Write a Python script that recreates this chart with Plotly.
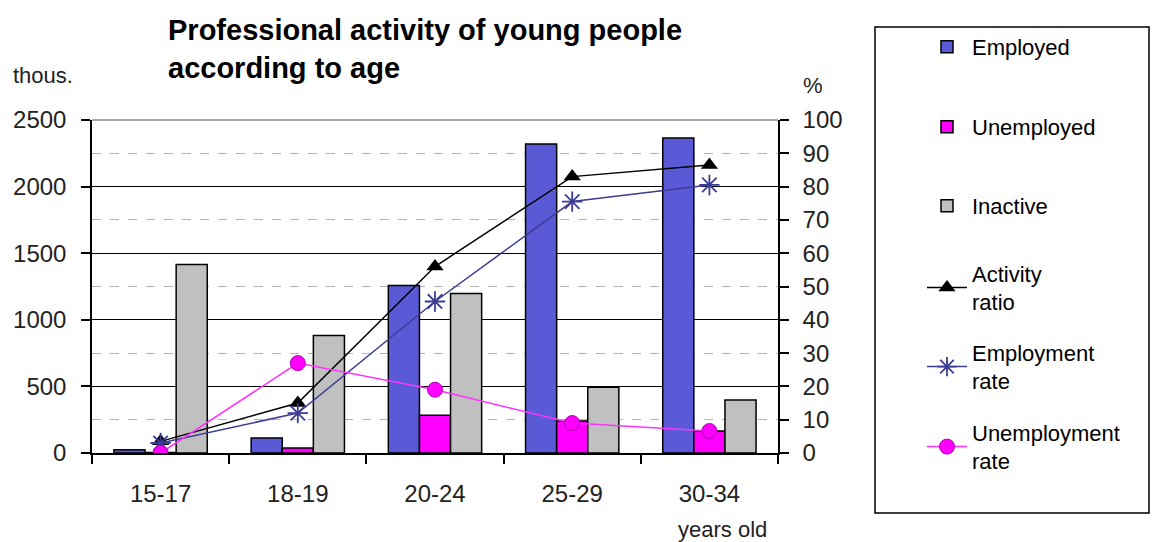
import plotly.graph_objects as go

# ---------------- data ----------------
age_groups = ["15-17", "18-19", "20-24", "25-29", "30-34"]
employed = [25, 112, 1257, 2320, 2365]          # thous.
unemployed = [3, 37, 284, 240, 165]             # thous.
inactive = [1415, 883, 1198, 494, 397]          # thous.
activity_ratio = [3.5, 15, 56, 83, 86.5]        # %
employment_rate = [3, 12, 45.5, 75.5, 80.5]     # %
unemployment_rate = [0, 27, 19, 9, 6.6]         # %

left_ticks = [0, 500, 1000, 1500, 2000, 2500]
right_ticks = list(range(0, 101, 10))

FONT = "Arial, Liberation Sans, sans-serif"

# plot area in px
W, H = 1152, 542
L, R, T, B = 92, 778, 120, 453
pw, ph = R - L, B - T


def px_x(x):
    return (x - L) / pw


def px_y(y):
    return (B - y) / ph


fig = go.Figure()

bar_line = dict(color="black", width=1.5)
fig.add_trace(go.Bar(x=age_groups, y=employed, name="Employed",
                     marker=dict(color="#5a5ad6", line=bar_line), legend="legend"))
fig.add_trace(go.Bar(x=age_groups, y=unemployed, name="Unemployed",
                     marker=dict(color="#ff00ff", line=bar_line), legend="legend2"))
fig.add_trace(go.Bar(x=age_groups, y=inactive, name="Inactive",
                     marker=dict(color="#c0c0c0", line=bar_line), legend="legend3"))

fig.add_trace(go.Scatter(x=age_groups, y=activity_ratio, name="Activity<br>ratio",
                         yaxis="y2", mode="lines+markers",
                         line=dict(color="black", width=1.5),
                         marker=dict(symbol="triangle-up", size=15, color="black"),
                         legend="legend4"))
fig.add_trace(go.Scatter(x=age_groups, y=employment_rate, name="Employment<br>rate",
                         yaxis="y2", mode="lines+markers",
                         line=dict(color="#3c3c96", width=1.5),
                         marker=dict(symbol="asterisk-open", size=17,
                                     line=dict(color="#1a1ae6", width=1.8)),
                         legend="legend5"))
fig.add_trace(go.Scatter(x=age_groups, y=unemployment_rate, name="Unemployment<br>rate",
                         yaxis="y2", mode="lines+markers",
                         line=dict(color="#ff33ff", width=1.5),
                         marker=dict(symbol="circle", size=15, color="#ff00ff",
                                     line=dict(color="#b000b0", width=1)),
                         legend="legend6"))

# legends: one per item, stacked inside a single framed box
legend_centers = [47, 127, 206, 288, 367, 447]
legend_common = dict(x=px_x(922), xanchor="left", yanchor="middle",
                     font=dict(family=FONT, size=22, color="black"),
                     bgcolor="rgba(0,0,0,0)", borderwidth=0, itemwidth=40,
                     valign="middle")
leg_layout = {}
for i, cy in enumerate(legend_centers):
    key = "legend" if i == 0 else f"legend{i+1}"
    leg_layout[key] = dict(legend_common, y=px_y(cy))

fig.update_layout(
    width=W, height=H,
    margin=dict(l=L, r=W - R, t=T, b=H - B, pad=0),
    paper_bgcolor="white", plot_bgcolor="white",
    font=dict(family=FONT, size=22, color="black"),
    barmode="group", bargap=0.32, bargroupgap=0,
    showlegend=True,
    xaxis=dict(type="category", showline=True, linecolor="black", linewidth=1.5,
               ticks="outside", tickson="boundaries", ticklen=9, tickcolor="black",
               tickwidth=1.5, showgrid=False, ticklabelstandoff=18,
               tickfont=dict(family=FONT, size=24, color="#222")),
    yaxis=dict(range=[0, 2500], tickvals=left_ticks, showline=True, linecolor="black",
               linewidth=1.5, ticks="outside", ticklen=9, tickcolor="black", tickwidth=1.5,
               showgrid=True, gridcolor="black", gridwidth=1.3,
               minor=dict(dtick=250, showgrid=True, gridcolor="#b4b4b4",
                          griddash="dash", gridwidth=1.2),
               ticklabelstandoff=10, zeroline=False,
               tickfont=dict(family=FONT, size=24, color="#222")),
    yaxis2=dict(range=[0, 100], tickvals=right_ticks, overlaying="y", side="right",
                showline=True, linecolor="black", linewidth=1.5, ticks="outside",
                ticklen=9, tickcolor="black", tickwidth=1.5, showgrid=False,
                zeroline=False, ticklabelstandoff=9,
                tickfont=dict(family=FONT, size=24, color="#222")),
    **leg_layout,
)

# legend frame
fig.add_shape(type="rect", xref="paper", yref="paper",
              x0=px_x(875), x1=px_x(1149), y0=px_y(513), y1=px_y(27),
              line=dict(color="black", width=1.5), fillcolor="rgba(0,0,0,0)")
# top border of the plot area (grey)
fig.add_shape(type="line", xref="paper", yref="paper", x0=0, x1=1, y0=1, y1=1,
              line=dict(color="#8c8c8c", width=1.5))

# texts
fig.add_annotation(text="Professional activity of young people<br>according to age",
                   xref="paper", yref="paper", x=px_x(166), y=px_y(49),
                   xanchor="left", yanchor="middle", align="left", showarrow=False,
                   font=dict(family=FONT, size=29, color="black", weight="bold"))
fig.add_annotation(text="thous.", xref="paper", yref="paper", x=px_x(11), y=px_y(75),
                   xanchor="left", yanchor="middle", showarrow=False,
                   font=dict(family=FONT, size=22, color="#222"))
fig.add_annotation(text="%", xref="paper", yref="paper", x=px_x(801), y=px_y(85),
                   xanchor="left", yanchor="middle", showarrow=False,
                   font=dict(family=FONT, size=22, color="#222"))
fig.add_annotation(text="years old", xref="paper", yref="paper", x=px_x(676), y=px_y(529),
                   xanchor="left", yanchor="middle", showarrow=False,
                   font=dict(family=FONT, size=22, color="#222"))

fig.write_html("out.html", config={"displayModeBar": False},
               post_script="document.body.style.margin='0';document.body.style.overflow='hidden';")
